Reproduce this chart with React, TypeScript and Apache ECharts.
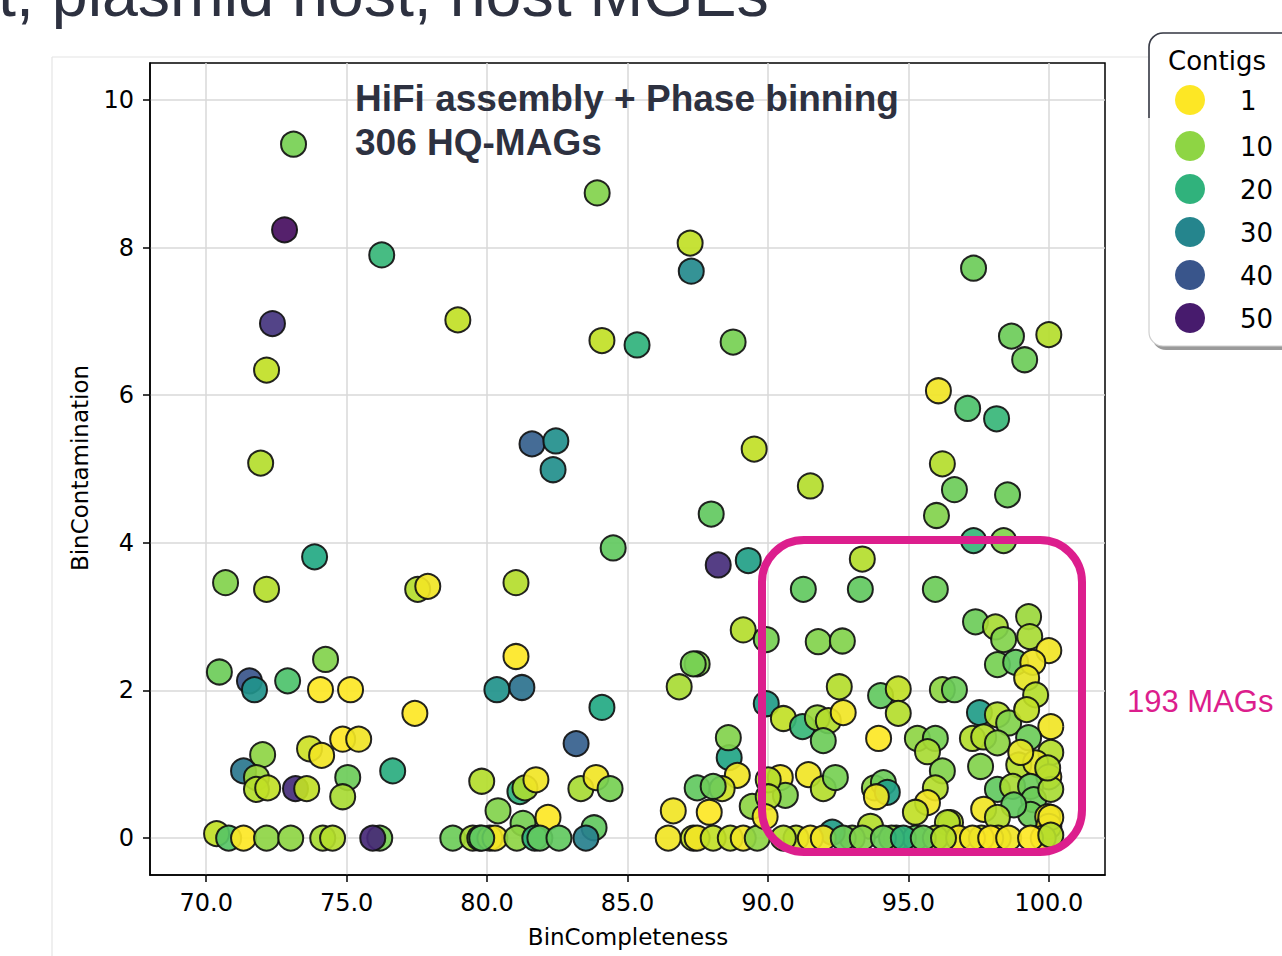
import React, { useEffect, useRef } from 'react';
import * as echarts from 'echarts';

// BinCompleteness (x), BinContamination (y), number of contigs (colour)
const completeness = [
  // left region
  73.11, 72.79, 72.36, 72.15, 71.94, 70.69, 72.15, 73.86, 70.47, 71.54,
  71.72, 72.90, 74.25, 74.07, 75.14, 71.33, 72.01, 71.79, 71.79, 72.19,
  73.18, 73.58, 73.68, 74.11, 74.86, 75.43, 75.04, 74.86, 76.64, 77.43,
  77.53, 77.89, 76.25, 78.96,
  // bottom left
  70.37, 70.80, 71.33, 72.15, 73.01, 74.15, 74.50, 76.18, 75.93, 78.78,
  79.49, 79.74, 80.10, 79.81,
  // middle lower
  81.03, 80.35, 81.24, 84.09, 83.17, 80.39, 81.17, 81.35, 81.74, 81.28,
  82.17, 83.34, 83.88, 84.38, 83.81, 83.52, 80.28, 81.06, 81.70, 81.88,
  82.56, 79.81,
  // 86-90
  89.12, 89.94, 87.48, 87.34, 86.84, 89.94, 88.62, 88.59, 88.91, 87.48,
  88.37, 88.05, 86.63, 87.91, 89.44, 86.45, 87.34, 87.48, 88.05, 88.66,
  89.12, 89.62,
  // upper
  83.92, 87.23, 87.27, 84.09, 85.34, 88.76, 81.60, 82.45, 82.35, 84.49,
  89.51, 87.98, 88.23, 89.30, 81.03, 91.51, 91.26, 93.36, 93.29, 96.07,
  96.21, 96.00, 96.64, 97.32, 97.11, 98.14, 98.67, 100.00, 99.14, 98.53,
  97.32, 98.39, 95.96,
  // box region
  91.79, 92.65, 97.39, 98.10, 98.39, 99.28, 99.32, 100.00, 98.17, 98.82,
  99.43, 99.21, 99.53, 92.54, 94.01, 94.64, 94.64, 96.21, 96.64, 97.53,
  98.17, 98.57, 99.21, 100.07, 90.55, 91.23, 91.76, 92.15, 92.68, 91.97,
  93.94, 95.32, 95.96, 95.68, 96.21, 97.28, 97.68, 98.17, 99.28, 100.07,
  97.57, 98.93, 99.53, 100.00, 90.44, 90.62, 91.44, 91.97, 92.40, 93.79,
  94.11, 94.25, 93.86, 95.96, 95.68, 95.25, 96.50, 98.17, 98.71, 99.35,
  99.46, 100.07, 97.68, 99.35, 99.96, 100.00, 90.01, 90.01, 89.90, 93.65,
  99.00, 99.96, 98.75, 98.17, 100.07, 96.39,
  // box bottom row
  94.57, 95.25, 95.96, 96.79, 91.00, 93.00, 99.80, 98.20, 97.60, 94.40,
  92.29, 90.55, 91.51, 91.97, 92.68, 93.36, 94.11, 94.82, 95.53, 96.25,
  97.28, 97.93, 98.57, 99.35, 100.07,
];

const contamination = [
  // left region
  9.40, 8.24, 6.97, 6.34, 5.08, 3.46, 3.37, 3.81, 2.25, 2.13,
  2.01, 2.13, 2.42, 2.01, 2.01, 0.91, 1.13, 0.82, 0.66, 0.68,
  0.67, 0.67, 1.21, 1.12, 1.34, 1.34, 0.82, 0.56, 0.91, 1.69,
  3.37, 3.41, 7.90, 7.02,
  // bottom left
  0.06, 0, 0, 0, 0, 0, 0, 0, 0, 0,
  0, 0, 0, 0.77,
  // middle lower
  2.46, 2.01, 2.04, 1.77, 1.28, 0.37, 0.63, 0.68, 0.79, 0.20,
  0.28, 0.67, 0.82, 0.67, 0.14, 0, 0, 0, 0, 0,
  0, 0,
  // 86-90
  2.82, 2.69, 2.36, 2.36, 2.05, 1.82, 1.09, 1.36, 0.85, 0.68,
  0.67, 0.70, 0.37, 0.35, 0.43, 0, 0, 0, 0, 0,
  0, 0,
  // upper
  8.74, 8.06, 7.68, 6.74, 6.68, 6.72, 5.34, 5.38, 4.99, 3.93,
  5.27, 4.39, 3.70, 3.76, 3.46, 4.77, 3.37, 3.78, 3.37, 6.06,
  5.07, 4.37, 4.72, 7.72, 5.82, 5.68, 6.80, 6.82, 6.48, 4.65,
  4.03, 4.03, 3.37,
  // box region
  2.66, 2.67, 2.93, 2.86, 2.69, 3.00, 2.73, 2.54, 2.35, 2.38,
  2.38, 2.17, 1.94, 2.05, 1.93, 2.02, 1.69, 2.01, 2.01, 1.70,
  1.67, 1.56, 1.74, 1.51, 1.62, 1.51, 1.63, 1.59, 1.70, 1.32,
  1.35, 1.35, 1.35, 1.17, 0.91, 1.35, 1.37, 1.29, 1.36, 1.16,
  0.97, 0.99, 1.02, 0.83, 0.82, 0.58, 0.86, 0.67, 0.82, 0.68,
  0.75, 0.62, 0.56, 0.68, 0.48, 0.35, 0.21, 0.66, 0.70, 0.70,
  0.52, 0.66, 0.39, 0.32, 0.29, 0.16, 0.79, 0.56, 0.29, 0.16,
  1.16, 0.95, 0.45, 0.28, 0.28, 0.21,
  // box bottom row
  0, 0, 0, 0, 0, 0, 0, 0, 0, 0,
  0.08, 0, 0, 0, 0, 0, 0, 0, 0, 0,
  0, 0, 0, 0, 0.04,
];

const contigs = [
  // left region
  12, 52, 46, 6, 7, 11, 7, 22, 13, 40,
  27, 16, 11, 1, 1, 33, 10, 9, 7, 6,
  47, 6, 5, 2, 1, 2, 13, 8, 21, 1,
  7, 2, 19, 6,
  // bottom left
  6, 15, 1, 10, 10, 8, 7, 12, 48, 13,
  8, 14, 2, 7,
  // middle lower
  1, 27, 34, 22, 38, 11, 20, 8, 2, 12,
  1, 8, 2, 12, 14, 31, 2, 10, 20, 14,
  14, 14,
  // 86-90
  7, 12, 11, 12, 8, 25, 23, 11, 2, 14,
  5, 13, 2, 1, 10, 2, 6, 2, 6, 6,
  2, 10,
  // upper
  11, 6, 29, 6, 20, 12, 38, 28, 28, 14,
  6, 14, 47, 24, 7, 7, 14, 7, 14, 2,
  7, 11, 13, 13, 16, 19, 13, 7, 13, 13,
  19, 11, 13,
  // box region
  11, 11, 13, 8, 11, 9, 8, 2, 12, 14,
  2, 3, 7, 7, 14, 6, 7, 10, 13, 25,
  7, 11, 6, 2, 6, 19, 9, 7, 2, 13,
  1, 10, 12, 8, 11, 7, 7, 10, 13, 7,
  11, 7, 3, 1, 2, 11, 2, 7, 12, 10,
  13, 24, 2, 7, 2, 6, 7, 14, 8, 13,
  13, 8, 2, 13, 2, 1, 7, 7, 2, 7,
  3, 7, 14, 7, 2, 7,
  // box bottom row
  2, 14, 7, 2, 6, 10, 2, 3, 6, 10,
  25, 7, 2, 2, 13, 11, 13, 20, 13, 7,
  2, 1, 2, 1, 7,
];

const xTicks = [70, 75, 80, 85, 90, 95, 100];
const yTicks = [0, 2, 4, 6, 8, 10];
const legendContigs = [1, 10, 20, 30, 40, 50];
const contigMin = 1;
const contigMax = 54;

// viridis, reversed (few contigs = yellow, many = purple)
const VIRIDIS_R = [
  '#fde725', '#bddf26', '#7ad151', '#44bf70', '#22a884', '#21918c',
  '#2a788e', '#355f8d', '#414487', '#482475', '#440154',
];

function hexToRgb(h: string): number[] {
  const n = parseInt(h.slice(1), 16);
  return [(n >> 16) & 255, (n >> 8) & 255, n & 255];
}

function colorFor(v: number): string {
  const t = Math.min(1, Math.max(0, (v - contigMin) / (contigMax - contigMin)));
  const f = t * (VIRIDIS_R.length - 1);
  const i = Math.floor(f);
  const j = Math.min(i + 1, VIRIDIS_R.length - 1);
  const a = hexToRgb(VIRIDIS_R[i]);
  const b = hexToRgb(VIRIDIS_R[j]);
  const k = f - i;
  const c = a.map((x, idx) => Math.round(x + (b[idx] - x) * k));
  return `rgb(${c[0]},${c[1]},${c[2]})`;
}

const PINK = '#dc1e8d';
const TEXT_DARK = '#2d3140';

export default function App() {
  const ref = useRef<HTMLDivElement>(null);

  useEffect(() => {
    if (!ref.current) return;
    const chart = echarts.init(ref.current, null, { renderer: 'svg' });

    const data = completeness.map((x, i) => [x, contamination[i], contigs[i]]);

    const legendX = 1149;
    const legendY = 33;
    const legendRowsY = [100, 146, 189, 232, 275, 318];

    const legendElems: any[] = [
      // shadow
      {
        type: 'rect',
        shape: { x: legendX + 3, y: legendY + 4, width: 200, height: 313, r: 14 },
        style: { fill: '#9a9a9a' },
        z: 200,
      },
      {
        type: 'rect',
        shape: { x: legendX, y: legendY, width: 200, height: 313, r: 14 },
        style: { fill: '#ffffff', stroke: '#cfcfcf', lineWidth: 1.2 },
        z: 201,
      },
      {
        type: 'arc',
        shape: { cx: legendX + 14, cy: legendY + 14, r: 14, startAngle: Math.PI, endAngle: Math.PI * 1.5 },
        style: { stroke: '#3a3d48', lineWidth: 1.6, fill: 'none' },
        z: 202,
      },
      {
        type: 'line',
        shape: { x1: legendX + 14, y1: legendY, x2: 1290, y2: legendY },
        style: { stroke: '#3a3d48', lineWidth: 1.6 },
        z: 202,
      },
      {
        type: 'line',
        shape: { x1: legendX, y1: legendY + 14, x2: legendX, y2: 118 },
        style: { stroke: '#3a3d48', lineWidth: 1.6 },
        z: 202,
      },
      {
        type: 'text',
        x: 1168,
        y: 61,
        style: {
          text: 'Contigs',
          fontSize: 26,
          fontFamily: 'DejaVu Sans',
          fill: '#000',
          align: 'left',
          verticalAlign: 'middle',
        },
        z: 203,
      },
    ];
    legendContigs.forEach((v, i) => {
      legendElems.push({
        type: 'circle',
        shape: { cx: 1190, cy: legendRowsY[i], r: 15 },
        style: { fill: colorFor(v) },
        z: 203,
      });
      legendElems.push({
        type: 'text',
        x: 1240,
        y: legendRowsY[i] + 1,
        style: {
          text: String(v),
          fontSize: 26,
          fontFamily: 'DejaVu Sans',
          fill: '#000',
          align: 'left',
          verticalAlign: 'middle',
        },
        z: 203,
      });
    });

    const option: any = {
      animation: false,
      backgroundColor: '#ffffff',
      grid: {
        left: 150,
        top: 63,
        width: 955,
        height: 812,
        show: true,
        borderColor: '#000',
        borderWidth: 1.5,
        backgroundColor: 'transparent',
      },
      xAxis: {
        type: 'value',
        min: 68,
        max: 102,
        axisLine: { show: true, onZero: false, lineStyle: { color: '#000', width: 1.5 } },
        axisTick: { show: true, customValues: xTicks, length: 7, lineStyle: { color: '#000', width: 1.5 } },
        axisLabel: {
          customValues: xTicks,
          formatter: (v: number) => v.toFixed(1),
          fontSize: 24,
          fontFamily: 'DejaVu Sans',
          color: '#000',
          margin: 16,
        },
        splitLine: { show: true, lineStyle: { color: '#d9d9d9', width: 1.5 } },
      },
      yAxis: {
        type: 'value',
        min: -0.5,
        max: 10.5,
        axisLine: { show: true, onZero: false, lineStyle: { color: '#000', width: 1.5 } },
        axisTick: { show: true, customValues: yTicks, length: 7, lineStyle: { color: '#000', width: 1.5 } },
        axisLabel: {
          customValues: yTicks,
          formatter: (v: number) => String(v),
          fontSize: 24,
          fontFamily: 'DejaVu Sans',
          color: '#000',
          margin: 16,
        },
        splitLine: { show: true, lineStyle: { color: '#d9d9d9', width: 1.5 } },
      },
      visualMap: {
        type: 'continuous',
        show: false,
        dimension: 2,
        min: contigMin,
        max: contigMax,
        seriesIndex: 0,
        inRange: { color: VIRIDIS_R },
      },
      series: [
        {
          type: 'scatter',
          data,
          symbolSize: 25,
          itemStyle: { borderColor: '#111', borderWidth: 2, opacity: 0.92 },
          emphasis: { disabled: true },
          silent: true,
        },
      ],
      graphic: [
        // embedded figure frame
        { type: 'line', shape: { x1: 52, y1: 57, x2: 1149, y2: 57 }, style: { stroke: '#e4e4e4', lineWidth: 1.2 }, z: 1 },
        { type: 'line', shape: { x1: 52, y1: 57, x2: 52, y2: 960 }, style: { stroke: '#e4e4e4', lineWidth: 1.2 }, z: 1 },
        // slide title (cut off at the top of the picture)
        {
          type: 'text',
          x: -2,
          y: -6,
          style: {
            text: 't, plasmid host, host MGEs',
            fontSize: 64.5,
            fontFamily: 'Liberation Sans',
            fill: TEXT_DARK,
            align: 'left',
            verticalAlign: 'middle',
          },
          z: 100,
        },
        {
          type: 'text',
          x: 355,
          y: 98,
          style: {
            text: 'HiFi assembly + Phase binning',
            fontSize: 37,
            fontWeight: 'bold',
            fontFamily: 'Liberation Sans',
            fill: TEXT_DARK,
            align: 'left',
            verticalAlign: 'middle',
          },
          z: 100,
        },
        {
          type: 'text',
          x: 355,
          y: 142,
          style: {
            text: '306 HQ-MAGs',
            fontSize: 37,
            fontWeight: 'bold',
            fontFamily: 'Liberation Sans',
            fill: TEXT_DARK,
            align: 'left',
            verticalAlign: 'middle',
          },
          z: 100,
        },
        // axis names
        {
          type: 'text',
          x: 628,
          y: 937,
          style: {
            text: 'BinCompleteness',
            fontSize: 23,
            fontFamily: 'DejaVu Sans',
            fill: '#000',
            align: 'center',
            verticalAlign: 'middle',
          },
          z: 100,
        },
        {
          type: 'text',
          x: 80,
          y: 468,
          rotation: Math.PI / 2,
          style: {
            text: 'BinContamination',
            fontSize: 23,
            fontFamily: 'DejaVu Sans',
            fill: '#000',
            align: 'center',
            verticalAlign: 'middle',
          },
          z: 100,
        },
        // highlight box
        {
          type: 'rect',
          shape: { x: 762, y: 540, width: 320, height: 312, r: 42 },
          style: { fill: 'none', stroke: PINK, lineWidth: 8 },
          z: 100,
        },
        {
          type: 'text',
          x: 1127,
          y: 701,
          style: {
            text: '193 MAGs',
            fontSize: 31,
            fontFamily: 'Liberation Sans',
            fill: PINK,
            align: 'left',
            verticalAlign: 'middle',
          },
          z: 100,
        },
        ...legendElems,
      ],
    };

    chart.setOption(option);
    return () => chart.dispose();
  }, []);

  return (
    <div
      ref={ref}
      style={{ position: 'absolute', left: 0, top: 0, width: 1282, height: 956, background: '#fff' }}
    />
  );
}
